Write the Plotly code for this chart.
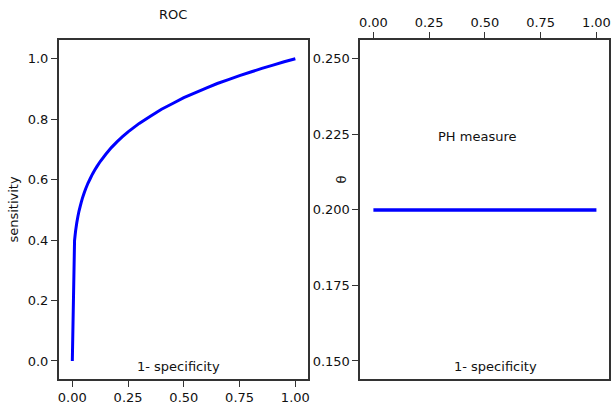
import plotly.graph_objects as go

# ROC curve: false positive rate vs true positive rate
fpr = [0.0, 0.01, 0.0125, 0.015, 0.02, 0.025, 0.03, 0.035, 0.04, 0.045, 0.05, 0.055,
       0.06, 0.065, 0.07, 0.08, 0.09, 0.10, 0.11, 0.125, 0.15, 0.175, 0.20, 0.225,
       0.25, 0.275, 0.30, 0.35, 0.40, 0.45, 0.50, 0.55, 0.60, 0.65, 0.70, 0.75,
       0.80, 0.85, 0.90, 0.95, 1.00]
tpr = [0.0, 0.398, 0.416, 0.432, 0.457, 0.478, 0.496, 0.511, 0.525, 0.538, 0.549, 0.560,
       0.570, 0.579, 0.588, 0.603, 0.618, 0.631, 0.643, 0.660, 0.684, 0.706, 0.725, 0.742,
       0.758, 0.772, 0.786, 0.810, 0.833, 0.852, 0.871, 0.887, 0.903, 0.918, 0.931, 0.944,
       0.956, 0.968, 0.979, 0.990, 1.000]

# PH measure theta across 1 - specificity
theta_x = [0.0, 1.0]
theta_y = [0.2, 0.2]

font_family = "DejaVu Sans"
axis_col = "#333333"

fig = go.Figure()
fig.add_trace(go.Scatter(x=fpr, y=tpr, mode="lines",
                         line=dict(color="#0000ff", width=3, simplify=False),
                         showlegend=False, xaxis="x", yaxis="y"))
fig.add_trace(go.Scatter(x=theta_x, y=theta_y, mode="lines",
                         line=dict(color="#0000ff", width=3.5), showlegend=False,
                         xaxis="x2", yaxis="y2"))

common = dict(showline=True, mirror=True, linecolor=axis_col, linewidth=1.5,
              ticks="outside", ticklen=6, tickwidth=1.2, tickcolor=axis_col,
              showgrid=False, zeroline=False,
              tickfont=dict(family=font_family, size=13, color="#111111"))

ydom = [1 - 381 / 405, 1 - 40 / 405]

fig.update_layout(
    width=615, height=405,
    margin=dict(l=0, r=0, t=0, b=0),
    plot_bgcolor="white", paper_bgcolor="white",
    font=dict(family=font_family, size=13, color="#111111"),
    xaxis=dict(domain=[58 / 615, 309 / 615], range=[-0.061, 1.059],
               tickvals=[0, 0.25, 0.5, 0.75, 1.0], tickformat=".2f",
               anchor="y", **common),
    yaxis=dict(domain=ydom, range=[-0.060, 1.0626],
               tickvals=[0, 0.2, 0.4, 0.6, 0.8, 1.0], tickformat=".1f",
               anchor="x",
               title=dict(text="sensitivity", standoff=6,
                          font=dict(family=font_family, size=13)),
               **common),
    xaxis2=dict(domain=[361 / 615, 611 / 615], range=[-0.059, 1.0565],
                tickvals=[0, 0.25, 0.5, 0.75, 1.0], tickformat=".2f",
                side="top", anchor="y2", **common),
    yaxis2=dict(domain=ydom, range=[0.1440, 0.2563],
                tickvals=[0.15, 0.175, 0.2, 0.225, 0.25], tickformat=".3f",
                anchor="x2", **common),
    annotations=[
        dict(text="ROC", x=172.5 / 615, y=1 - 15 / 405, xref="paper", yref="paper",
             showarrow=False, xanchor="center", yanchor="middle",
             font=dict(family=font_family, size=13)),
        dict(text="1- specificity", x=0.477, y=-0.017, xref="x", yref="y",
             showarrow=False, xanchor="center", yanchor="middle",
             font=dict(family=font_family, size=13)),
        dict(text="1- specificity", x=0.548, y=0.1483, xref="x2", yref="y2",
             showarrow=False, xanchor="center", yanchor="middle",
             font=dict(family=font_family, size=13)),
        dict(text="PH measure", x=0.465, y=0.2242, xref="x2", yref="y2",
             showarrow=False, xanchor="center", yanchor="middle",
             font=dict(family=font_family, size=13)),
        dict(text="θ", x=342 / 615, y=1 - 180 / 405, xref="paper", yref="paper",
             showarrow=False, xanchor="center", yanchor="middle", textangle=-90,
             font=dict(family=font_family, size=13)),
    ],
)

fig.write_html("out.html")
